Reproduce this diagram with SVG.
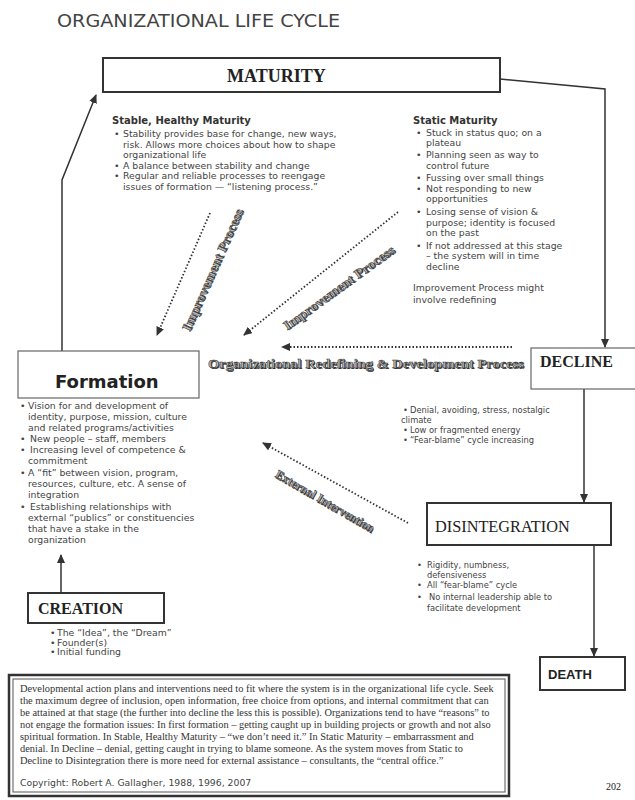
<svg xmlns="http://www.w3.org/2000/svg" width="635" height="800" viewBox="0 0 635 800">
<defs>
<style>
.bg{fill:#fff}
.box{fill:#fff;stroke:#333;stroke-width:2}
.boxl{fill:#fff;stroke:#666;stroke-width:1.2}
.conn{fill:none;stroke:#333;stroke-width:1.5}
.dot{fill:none;stroke:#333;stroke-width:1.8;stroke-dasharray:1.5 2}
.ttl{font-family:"DejaVu Sans",Verdana,sans-serif;font-size:18px;fill:#444}
.sb{font-family:"Liberation Serif","Times New Roman",serif;font-weight:bold;fill:#222}
.sr{font-family:"Liberation Serif","Times New Roman",serif;fill:#222}
.b{font-family:"DejaVu Sans",Verdana,sans-serif;font-size:9.3px;fill:#444}
.bs{font-family:"DejaVu Sans",Verdana,sans-serif;font-size:8.3px;fill:#444}
.bh{font-family:"DejaVu Sans",Verdana,sans-serif;font-size:10px;font-weight:bold;fill:#333}
.ft{font-family:"Liberation Serif","Times New Roman",serif;font-size:10.4px;fill:#333}
.es{font-family:"Liberation Serif","Times New Roman",serif;font-weight:bold;fill:#333}
.ef{font-family:"Liberation Serif","Times New Roman",serif;font-weight:bold;fill:#bbb;stroke:#333;stroke-width:0.5}
</style>
<marker id="ah" markerUnits="userSpaceOnUse" markerWidth="9" markerHeight="8" refX="8" refY="4" orient="auto">
<path d="M0,0 L9,4 L0,8 Z" fill="#333"/>
</marker>
</defs>
<rect class="bg" x="0" y="0" width="635" height="800"/>
<text class="ttl" x="57" y="27" textLength="283" lengthAdjust="spacingAndGlyphs">ORGANIZATIONAL LIFE CYCLE</text>

<g id="connectors">
<path class="conn" d="M62,351 V180 L96,95" marker-end="url(#ah)"/>
<path class="conn" d="M500,79 L605,89 V347" marker-end="url(#ah)"/>
<path class="conn" d="M584,389 V502" marker-end="url(#ah)"/>
<path class="conn" d="M594,545 V656" marker-end="url(#ah)"/>
<path class="conn" d="M61,593 V555" marker-end="url(#ah)"/>
<path class="dot" d="M210,213 L157,335" marker-end="url(#ah)"/>
<path class="dot" d="M398,212 L244,335" marker-end="url(#ah)"/>
<path class="dot" d="M512,347 L282,347" marker-end="url(#ah)"/>
<path class="dot" d="M408,523 L263,443" marker-end="url(#ah)"/>
<g transform="translate(213,270) rotate(-66)">
<text class="es" x="1" y="5" font-size="13" text-anchor="middle" textLength="132" lengthAdjust="spacingAndGlyphs">Improvement Process</text>
<text class="ef" x="0" y="4" font-size="13" text-anchor="middle" textLength="132" lengthAdjust="spacingAndGlyphs">Improvement Process</text>
</g>
<g transform="translate(339,288) rotate(-36)">
<text class="es" x="1" y="5" font-size="13" text-anchor="middle" textLength="134" lengthAdjust="spacingAndGlyphs">Improvement Process</text>
<text class="ef" x="0" y="4" font-size="13" text-anchor="middle" textLength="134" lengthAdjust="spacingAndGlyphs">Improvement Process</text>
</g>
<g transform="translate(325,501) rotate(30)">
<text class="es" x="1" y="5" font-size="12" text-anchor="middle" textLength="112" lengthAdjust="spacingAndGlyphs">External Intervention</text>
<text class="ef" x="0" y="4" font-size="12" text-anchor="middle" textLength="112" lengthAdjust="spacingAndGlyphs">External Intervention</text>
</g>
<text class="es" x="209" y="369" font-size="13" textLength="316" lengthAdjust="spacingAndGlyphs">Organizational Redefining &amp; Development Process</text>
<text class="ef" x="208" y="368" font-size="13" textLength="316" lengthAdjust="spacingAndGlyphs">Organizational Redefining &amp; Development Process</text>
</g>

<g id="maturity">
<rect class="box" x="103" y="58" width="397" height="34"/>
<text class="sb" x="227" y="82" font-size="18">MATURITY</text>
<text class="bh" x="112" y="124">Stable, Healthy Maturity</text>
<g class="b">
<text x="114" y="137">•</text><text x="123" y="137">Stability provides base for change, new ways,</text>
<text x="123" y="147.5">risk. Allows more choices about how to shape</text>
<text x="123" y="158">organizational life</text>
<text x="114" y="168.5">•</text><text x="123" y="168.5">A balance between stability and change</text>
<text x="114" y="179">•</text><text x="123" y="179">Regular and reliable processes to reengage</text>
<text x="123" y="189.5">issues of formation — “listening process.”</text>
</g>
<text class="bh" x="413" y="124">Static Maturity</text>
<g class="b">
<text x="416" y="136">•</text><text x="426" y="136">Stuck in status quo; on a</text>
<text x="426" y="146">plateau</text>
<text x="416" y="158">•</text><text x="426" y="158">Planning seen as way to</text>
<text x="426" y="169">control future</text>
<text x="416" y="181">•</text><text x="426" y="181">Fussing over small things</text>
<text x="416" y="192">•</text><text x="426" y="192">Not responding to new</text>
<text x="426" y="202">opportunities</text>
<text x="416" y="215">•</text><text x="426" y="215">Losing sense of vision &amp;</text>
<text x="426" y="226">purpose; identity is focused</text>
<text x="426" y="236">on the past</text>
<text x="416" y="249">•</text><text x="426" y="249">If not addressed at this stage</text>
<text x="426" y="259">– the system will in time</text>
<text x="426" y="270">decline</text>
<text x="413" y="291">Improvement Process might</text>
<text x="413" y="303">involve redefining</text>
</g>
</g>

<g id="formation">
<rect class="boxl" x="18" y="351" width="181" height="47"/>
<text x="55" y="388" font-family="'DejaVu Sans',Verdana,sans-serif" font-weight="bold" font-size="18" fill="#222">Formation</text>
<g class="b">
<text x="20" y="409">•</text><text x="28" y="409">Vision for and development of</text>
<text x="28" y="420">identity, purpose, mission, culture</text>
<text x="28" y="431">and related programs/activities</text>
<text x="20" y="442">•</text><text x="30" y="442">New people – staff, members</text>
<text x="20" y="453">•</text><text x="30" y="453">Increasing level of competence &amp;</text>
<text x="28" y="464">commitment</text>
<text x="20" y="476">•</text><text x="28" y="476">A “fit” between vision, program,</text>
<text x="28" y="487">resources, culture, etc.  A sense of</text>
<text x="28" y="498">integration</text>
<text x="20" y="510">•</text><text x="30" y="510">Establishing relationships with</text>
<text x="28" y="521">external “publics” or constituencies</text>
<text x="28" y="532">that have a stake in the</text>
<text x="28" y="543">organization</text>
</g>
</g>

<g id="decline">
<rect class="boxl" x="531" y="348" width="110" height="41"/>
<text class="sb" x="540" y="367" font-size="16">DECLINE</text>
<g class="bs">
<text x="403" y="413">•</text><text x="410" y="413">Denial, avoiding, stress, nostalgic</text>
<text x="401" y="423">climate</text>
<text x="403" y="433">•</text><text x="410" y="433">Low or fragmented energy</text>
<text x="403" y="443">•</text><text x="410" y="443">“Fear-blame” cycle increasing</text>
</g>
</g>

<g id="disintegration">
<rect class="box" x="427" y="503" width="184" height="42"/>
<text class="sr" x="435" y="532" font-size="16.3">DISINTEGRATION</text>
<g class="bs">
<text x="417" y="568">•</text><text x="427" y="568">Rigidity, numbness,</text>
<text x="427" y="578">defensiveness</text>
<text x="417" y="588">•</text><text x="427" y="588">All “fear-blame” cycle</text>
<text x="417" y="600">•</text><text x="429" y="600">No internal leadership able to</text>
<text x="427" y="611">facilitate development</text>
</g>
</g>

<g id="creation">
<rect class="box" x="28" y="593" width="136" height="30"/>
<text class="sb" x="38" y="614" font-size="16">CREATION</text>
<g class="b" font-size="9">
<text x="50" y="636">•</text><text x="57" y="636">The “Idea”, the  “Dream”</text>
<text x="50" y="645.5">•</text><text x="57" y="645.5">Founder(s)</text>
<text x="50" y="655">•</text><text x="57" y="655">Initial funding</text>
</g>
</g>

<g id="death">
<rect class="box" x="540" y="657" width="85" height="33"/>
<text x="548" y="679" font-family="'Liberation Sans',Arial,sans-serif" font-weight="bold" font-size="13" fill="#222">DEATH</text>
</g>

<g id="note">
<rect x="9" y="675" width="500" height="121" fill="#fff" stroke="#333" stroke-width="2.5"/>
<rect x="13" y="679" width="492" height="113" fill="none" stroke="#555" stroke-width="1"/>
<g class="ft">
<text x="20" y="692">Developmental action plans and interventions need to fit where the system is in the organizational life cycle.  Seek</text>
<text x="20" y="704">the maximum degree of inclusion, open information, free choice from options, and internal commitment that can</text>
<text x="20" y="716">be attained at that stage (the further into decline the less this is possible). Organizations tend to have “reasons” to</text>
<text x="20" y="728">not engage the formation issues: In first formation – getting caught up in building projects or growth and not also</text>
<text x="20" y="740">spiritual formation. In Stable, Healthy Maturity – “we don’t need it.” In Static Maturity – embarrassment and</text>
<text x="20" y="752">denial. In Decline – denial, getting caught in trying to blame someone.  As the system moves from Static to</text>
<text x="20" y="764">Decline to Disintegration there is more need for external assistance – consultants, the “central office.”</text>
</g>
<text class="b" x="20" y="786" font-size="9.4">Copyright: Robert A. Gallagher, 1988, 1996, 2007</text>
</g>
<text class="sr" x="606" y="790" font-size="10">202</text>
</svg>
